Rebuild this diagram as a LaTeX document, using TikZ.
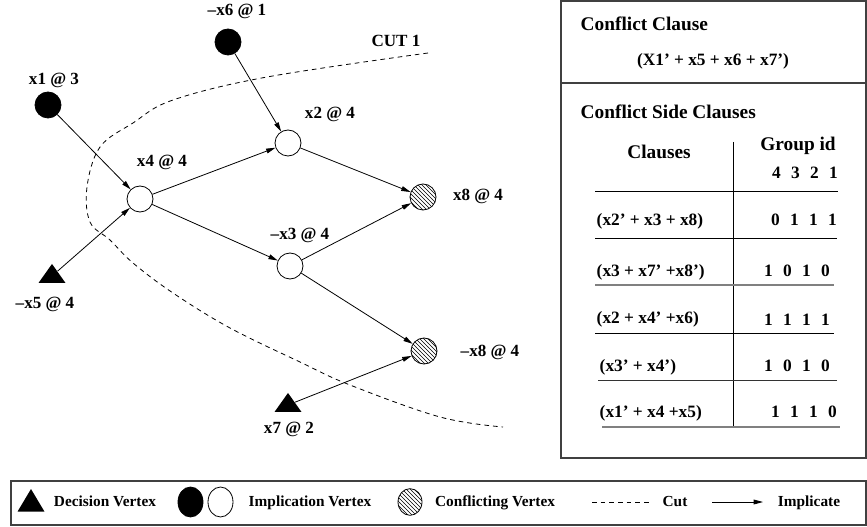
\documentclass[tikz,border=0pt]{standalone}
\usepackage{fontspec}
\setmainfont{Liberation Serif}
\usetikzlibrary{arrows.meta, shapes.geometric, patterns}
\newcommand{\bits}[4]{\makebox[14.25pt]{#1}\makebox[14.25pt]{#2}\makebox[14.25pt]{#3}\makebox[14.25pt]{#4}}
\tikzset{
  >={Triangle[length=7pt,width=3.6pt]},
  every picture/.style={line width=0.6pt},
  vertex/.style={draw, circle, minimum size=19.5pt, inner sep=0pt},
  assigned/.style={vertex, fill=black},
  implied/.style={vertex, fill=white},
  conflict/.style={vertex, pattern=north west lines},
  decision/.style={isosceles triangle, isosceles triangle stretches, shape border rotate=90,
    fill=black, minimum width=20.25pt, minimum height=14.25pt, inner sep=0pt},
  imp/.style={->},
  cutline/.style={dash pattern=on 3.5pt off 3pt},
  frame/.style={draw=black!75, line width=0.9pt},
  txt/.style={inner sep=1pt, text height=0.68em, text depth=0.2em},
  vlabel/.style={txt, font=\fontsize{12.8}{15}\selectfont\bfseries},
  head/.style={txt, font=\fontsize{14.5}{17}\selectfont\bfseries},
  row/.style={txt, font=\fontsize{13}{15}\selectfont\bfseries},
  ltext/.style={txt, font=\fontsize{11.5}{13}\selectfont\bfseries},
  lshape/.style={draw, ellipse, minimum width=18.75pt, minimum height=22.5pt, inner sep=0pt}
}
\begin{document}
\begin{tikzpicture}[x=0.75pt, y=-0.75pt]
\useasboundingbox (0,0) rectangle (867,527);

% implication graph
\node[assigned] (x6) at (228,42) {};
\node[assigned] (x1) at (48,105) {};
\node[implied] (x4) at (140,199) {};
\node[implied] (x2) at (288,143) {};
\node[implied] (x3) at (290,266) {};
\node[conflict] (x8) at (423,197) {};
\node[conflict] (nx8) at (424,351) {};
\node[decision] (x5) at (52,276) {};
\node[decision] (x7) at (288,405) {};

\node[vlabel] (l6) at (237,12) {--x6 @ 1};
\node[vlabel] (l1) at (54,81) {x1 @ 3};
\node[vlabel] (l4) at (162,163) {x4 @ 4};
\node[vlabel] (l2) at (330,115) {x2 @ 4};
\node[vlabel] (l8) at (478,197) {x8 @ 4};
\node[vlabel] (l3) at (300,236) {--x3 @ 4};
\node[vlabel] (l5) at (45,305) {--x5 @ 4};
\node[vlabel] (ln8) at (490,353) {--x8 @ 4};
\node[vlabel] (l7) at (289,430) {x7 @ 2};

\draw[imp] (x6) -- (x2);
\draw[imp] (x1) -- (x4);
\draw[imp] (x5) -- (x4);
\draw[imp] (x4) -- (x2);
\draw[imp] (x4) -- (x3);
\draw[imp] (x2) -- (x8);
\draw[imp] (x3) -- (x8);
\draw[imp] (x3) -- (nx8);
\draw[imp] (x7) -- (nx8);

% cut
\draw[cutline] plot[smooth, tension=0.6] coordinates {(428,53) (267,77) (173,100) (133,123)
  (100,147) (87,187) (90,222) (110,240) (133,263) (173,293) (230,328) (300,362)
  (350,385) (440,417) (503,427)};
\node[vlabel] (lcut1) at (396,43) {CUT 1};

% clause table
\draw[frame] (561,1) rectangle (866,458);
\draw[frame] (561,83) -- (866,83);
\node[head, anchor=west] (cc) at (579,27) {Conflict Clause};
\node[row] (ccl) at (713,62) {(X1' + x5 + x6 + x7')};
\node[head, anchor=west] (cs) at (579,115) {Conflict Side Clauses};
\node[head] (hcl) at (659,155) {Clauses};
\node[head] (hgid) at (798,147) {Group id};
\node[row] (hbit) at (805,175) {\bits4321};
\draw (733,142) -- (733,427);
\draw (595,191) -- (838,191);

\node[row, anchor=west] (r1) at (595,222) {(x2' + x3 + x8)};
\node[row] (g1) at (804,222) {\bits0111};
\draw (595,238) -- (837,238);
\node[row, anchor=west] (r2) at (595,273) {(x3 + x7' +x8')};
\node[row] (g2) at (797,273) {\bits1010};
\draw[black!50, line width=1pt] (595,285) -- (834,285);
\node[row, anchor=west] (r3) at (595,320) {(x2 + x4' +x6)};
\node[row] (g3) at (797,322) {\bits1111};
\draw (595,333) -- (834,333);
\node[row, anchor=west] (r4) at (598,368) {(x3' + x4')};
\node[row] (g4) at (797,368) {\bits1010};
\draw[black!80] (598,380) -- (837,380);
\node[row, anchor=west] (r5) at (598,414) {(x1' + x4 +x5)};
\node[row] (g5) at (804,414) {\bits1110};
\draw[black!50, line width=1pt] (602,427) -- (840,427);

% legend
\draw[frame] (11,481) rectangle (866,525);
\node[decision, minimum height=17pt] (ldec) at (31,504) {};
\node[ltext] (tdec) at (105,503) {Decision Vertex};
\node[lshape, fill=black] (lasg) at (190.5,502) {};
\node[lshape, fill=white] (limpl) at (220.5,502) {};
\node[ltext] (timpl) at (310,503) {Implication Vertex};
\node[lshape, pattern=north west lines, minimum width=18pt, minimum height=20pt] (lconf) at (410,502) {};
\node[ltext] (tconf) at (495,503) {Conflicting Vertex};
\coordinate (lcuta) at (592,502);
\coordinate (lcutb) at (652,502);
\draw[cutline] (lcuta) -- (lcutb);
\node[ltext] (tcut) at (675,503) {Cut};
\coordinate (larra) at (712,502);
\coordinate (larrb) at (763,502);
\draw[imp] (larra) -- (larrb);
\node[ltext] (tarr) at (809,503) {Implicate};
\end{tikzpicture}
\end{document}
